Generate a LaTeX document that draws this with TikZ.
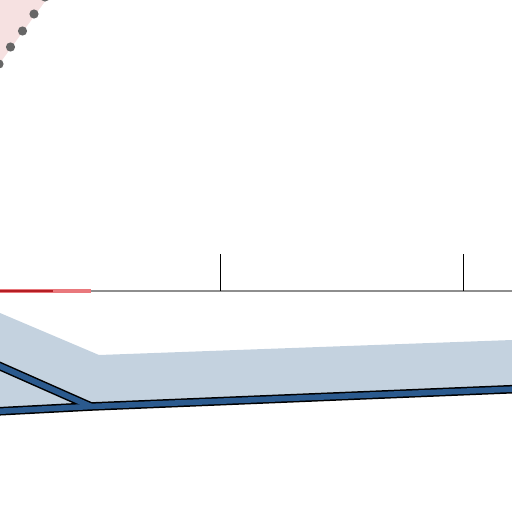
\documentclass[tikz,border=0pt]{standalone}
\usetikzlibrary{calc}
\definecolor{pinkfill}{HTML}{F6E1E1}
\definecolor{dotgray}{HTML}{666666}
\definecolor{bandfill}{HTML}{C4D2DF}
\definecolor{lineblue}{HTML}{2B5A8E}
\definecolor{axisgray}{HTML}{8E8E8E}
\definecolor{redlight}{HTML}{E9787C}
\definecolor{reddark}{HTML}{B41E24}
\tikzset{
  bluepath/.style={draw=black,line width=8.6pt,line join=miter},
  bluepathin/.style={draw=lineblue,line width=5.6pt,line join=miter},
  tick/.style={draw=black,line width=0.9pt},
  dotmark/.style={fill=dotgray},
}
\begin{document}
\begin{tikzpicture}[x=1pt,y=-1pt]
\useasboundingbox (0,0) rectangle (512,512);
\begin{scope}
\clip (0,0) rectangle (512,512);
% pink region
\fill[pinkfill] (0,0) -- (46,0) -- (0,63) -- cycle;
\foreach \p in {(45,-3),(34,14),(22.5,31),(10.5,47),(-1,64)}
  \fill[dotmark] \p circle (4.6pt);
% band
\fill[bandfill] (0,313) -- (99,355) -- (512,340) -- (512,389) -- (91,406) -- (0,411) -- cycle;
% axis
\draw[axisgray,line width=2.4pt] (0,291) -- (512,291);
\draw[redlight,line width=4pt] (0,291) -- (91,291);
\draw[reddark,line width=2pt] (0,291) -- (53,291);
\draw[tick] (220,254) -- (220,291);
\draw[tick] (463,254) -- (463,291);
% blue lines
\coordinate (j) at (91,406.5);
\draw[bluepath] (-5,364) -- (j);
\draw[bluepath] (-5,411.5) -- (j) -- (517,389);
\draw[bluepathin] (-5,364) -- (j);
\draw[bluepathin] (-5,411.5) -- (j) -- (517,389);
\end{scope}
\end{tikzpicture}
\end{document}
